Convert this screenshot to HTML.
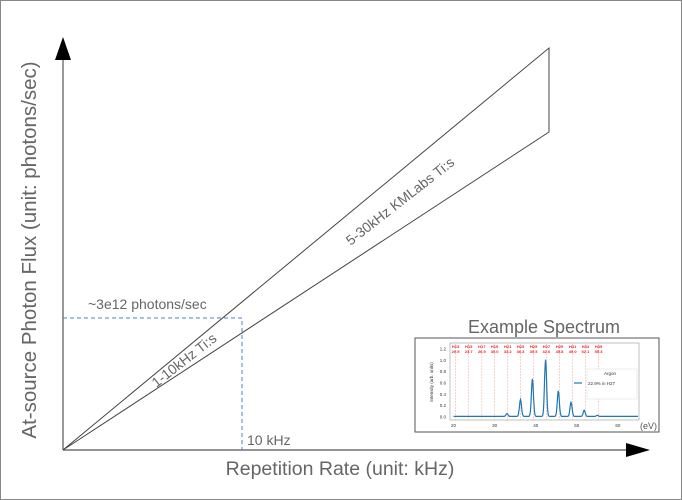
<!DOCTYPE html>
<html><head><meta charset="utf-8"><style>
body{margin:0;background:#fff}
svg{display:block;font-family:"Liberation Sans",sans-serif}
</style></head><body>
<svg width="682" height="500" viewBox="0 0 682 500">
<rect x="0.5" y="0.5" width="681" height="499" fill="#fff" stroke="#888"/>
<line x1="63" y1="450" x2="63" y2="58" stroke="#555" stroke-width="1.2"/>
<polygon points="63,37 55,60 71,60" fill="#000"/>
<line x1="63" y1="450" x2="628" y2="450" stroke="#555" stroke-width="1.2"/>
<polygon points="650,450 626,443 626,457" fill="#000"/>
<polygon points="63,450 549,48 549,132" fill="none" stroke="#444" stroke-width="1"/>
<polyline points="63,318 242,318 242,450" fill="none" stroke="#4a7fd4" stroke-width="1" stroke-dasharray="4,3"/>
<text transform="translate(36,250) rotate(-90)" text-anchor="middle" font-size="20.5" fill="#666">At-source Photon Flux (unit: photons/sec)</text>
<text x="340" y="475" text-anchor="middle" font-size="19.5" fill="#666">Repetition Rate (unit: kHz)</text>
<text x="88" y="309" font-size="14" fill="#666">~3e12 photons/sec</text>
<text x="247" y="445" font-size="14" fill="#666">10 kHz</text>
<text transform="translate(403,205) rotate(-38)" text-anchor="middle" font-size="14" fill="#666">5-30kHz KMLabs Ti:s</text>
<text transform="translate(187,364) rotate(-38)" text-anchor="middle" font-size="14" fill="#666">1-10kHz Ti:s</text>
<text x="544" y="333" text-anchor="middle" font-size="18" fill="#666">Example Spectrum</text>
<rect x="415" y="338" width="244" height="94" fill="#fff" stroke="#555"/>
<g id="spec"></g>
</svg>
<script>
const harmonicLabels=["H13","H15","H17","H19","H21","H23","H25","H27","H29","H31","H33","H35"];
const harmonicEnergies=[20.5,23.7,26.9,30.0,33.2,36.3,39.5,42.6,45.8,49.0,52.1,55.3];
const peakEnergies=[33.0,36.3,39.2,42.4,45.5,48.6,51.8,55.0];
const peakHeights=[0.05,0.30,0.66,1.00,0.45,0.25,0.11,0.02];
const yTicks=[0,0.2,0.4,0.6,0.8,1.0,1.2];
const xTicks=[20,30,40,50,60];
const NS="http://www.w3.org/2000/svg";
const g=document.getElementById('spec');
const X=e=>453.5+(e-20)*4.11, Y=v=>417-v*56.7;
function mk(t,a){const el=document.createElementNS(NS,t);for(const k in a)el.setAttribute(k,a[k]);g.appendChild(el);return el;}
const ax=mk('rect',{x:450,y:343,width:189,height:77,fill:'none',stroke:'#999','stroke-width':0.6});


harmonicEnergies.forEach((e,i)=>{
 const l=mk('line',{x1:X(e),x2:X(e),y1:344,y2:420,stroke:'#f4a0a0','stroke-width':0.5,'stroke-dasharray':'2,1'});
 
 
 const t=mk('text',{x:X(e),y:348,'font-size':4,fill:'#e22','text-anchor':'middle','font-weight':'bold'});
 t.textContent=harmonicLabels[i];
 
 
 const t2=mk('text',{x:X(e),y:353,'font-size':4,fill:'#e22','text-anchor':'middle','font-weight':'bold'});
 t2.textContent=e.toFixed(1);
 
 
});
yTicks.forEach(v=>{const t=mk('text',{x:446,y:Y(v)+1.5,'font-size':4.5,fill:'#333','text-anchor':'end'});t.textContent=v.toFixed(1);
 
 });
xTicks.forEach(v=>{const t=mk('text',{x:X(v),y:427,'font-size':4.5,fill:'#333','text-anchor':'middle'});t.textContent=v;
 
 });
const yl=mk('text',{transform:'translate(433,382) rotate(-90)','font-size':4.5,fill:'#333','text-anchor':'middle'});yl.textContent='Intensity (arb. units)';


const ev=mk('text',{x:640,y:429,'font-size':9,fill:'#555'});ev.textContent='(eV)';


let pts=[];
for(let e=20;e<=65;e+=0.1){let v=0.01;peakEnergies.forEach((p,i)=>{v+=peakHeights[i]*Math.exp(-((e-p)**2)/(2*0.25*0.25));});pts.push(X(e).toFixed(1)+','+Y(v).toFixed(1));}
const c=mk('polyline',{points:pts.join(' '),fill:'none',stroke:'#1f77b4','stroke-width':1.2});


const lg=mk('rect',{x:587,y:369,width:50,height:30,fill:'#fff',stroke:'#ddd','stroke-width':0.5});


const lt=mk('text',{x:604,y:375,'font-size':4.5,fill:'#333'});lt.textContent='Argon';


const ll=mk('line',{x1:574,x2:582,y1:383,y2:383,stroke:'#1f77b4','stroke-width':1.2});


const le=mk('text',{x:588,y:385,'font-size':4.5,fill:'#333'});le.textContent='22.9% in H27';


</script>
</body></html>
